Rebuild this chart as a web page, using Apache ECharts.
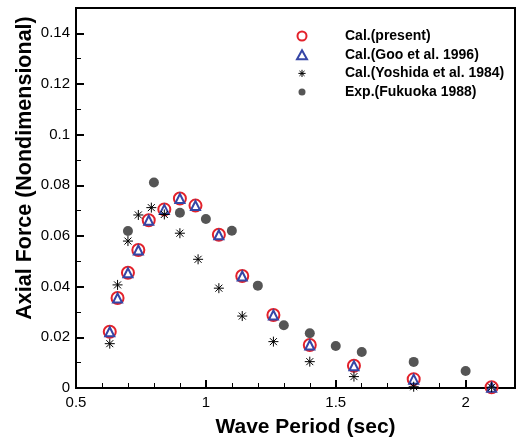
<!DOCTYPE html>
<html><head><meta charset="utf-8">
<script src="https://cdn.jsdelivr.net/npm/echarts@6/dist/echarts.min.js"></script>
<style>html,body{margin:0;padding:0;background:#fff}#c{width:517px;height:441px}</style>
</head><body><div id="c"></div>
<script>
const seriesNames = ['Cal.(present)', 'Cal.(Goo et al. 1996)', 'Cal.(Yoshida et al. 1984)', 'Exp.(Fukuoka 1988)'];
const xPresent = [0.63, 0.66, 0.70, 0.74, 0.78, 0.84, 0.90, 0.96, 1.05, 1.14, 1.26, 1.40, 1.57, 1.80, 2.10];
const yPresent = [0.0222, 0.0355, 0.0455, 0.0545, 0.0662, 0.0705, 0.0748, 0.0720, 0.0605, 0.0442, 0.0288, 0.0170, 0.0088, 0.0035, 0.0003];
const xGoo = [0.63, 0.66, 0.70, 0.74, 0.78, 0.84, 0.90, 0.96, 1.05, 1.14, 1.26, 1.40, 1.57, 1.80, 2.10];
const yGoo = [0.0222, 0.0355, 0.0455, 0.0545, 0.0662, 0.0705, 0.0748, 0.0720, 0.0605, 0.0442, 0.0288, 0.0170, 0.0088, 0.0035, 0.0003];
const xYoshida = [0.63, 0.66, 0.70, 0.74, 0.79, 0.84, 0.90, 0.97, 1.05, 1.14, 1.26, 1.40, 1.57, 1.80, 2.10];
const yYoshida = [0.0175, 0.0407, 0.0580, 0.0683, 0.0712, 0.0685, 0.0611, 0.0508, 0.0394, 0.0284, 0.0183, 0.0104, 0.0045, 0.0005, 0.0003];
const xFukuoka = [0.70, 0.80, 0.90, 1.00, 1.10, 1.20, 1.30, 1.40, 1.50, 1.60, 1.80, 2.00];
const yFukuoka = [0.0620, 0.0811, 0.0692, 0.0667, 0.0621, 0.0404, 0.0248, 0.0216, 0.0166, 0.0142, 0.0103, 0.0067];
const xTitle = 'Wave Period (sec)';
const yTitle = 'Axial Force (Nondimensional)';

const pairs = (xs, ys) => xs.map((x, i) => [x, ys[i]]);
const FONT = '"Liberation Sans", Arial, sans-serif';
const starPath = 'path://M0 5L10 5M5 0L5 10M1.5 1.5L8.5 8.5M8.5 1.5L1.5 8.5';
const triPath = 'path://M5 0L10 9L0 9Z';
const smallDotPath = 'path://M0 0M9 9M1 4.5A3.5 3.5 0 1 1 8 4.5A3.5 3.5 0 1 1 1 4.5Z';
const smallStarPath = 'path://M0 0M10 10M1 5L9 5M5 1L5 9M2.2 2.2L7.8 7.8M7.8 2.2L2.2 7.8';

const chart = echarts.init(document.getElementById('c'), null, {renderer: 'canvas'});
chart.setOption({
  animation: false,
  backgroundColor: '#fff',
  textStyle: {fontFamily: FONT},
  grid: {left: 76, top: 8, width: 439, height: 380, show: true, borderColor: '#000', borderWidth: 2,
         containLabel: false, outerBoundsMode: 'none'},
  legend: {
    data: [
      {name: seriesNames[0]},
      {name: seriesNames[1], icon: triPath},
      {name: seriesNames[2], icon: smallStarPath,
       itemStyle: {color: 'rgba(0,0,0,0)', borderColor: '#000', borderWidth: 1}},
      {name: seriesNames[3], icon: smallDotPath}
    ],
    orient: 'vertical',
    left: 291, top: 24,
    itemWidth: 76, itemHeight: 9, itemGap: 4.7,
    symbolKeepAspect: true,
    selectedMode: false,
    textStyle: {fontFamily: FONT, fontSize: 14, fontWeight: 'bold', color: '#000'}
  },
  xAxis: {
    type: 'value', min: 0.5, max: 2.19, interval: 0.5,
    name: xTitle, nameLocation: 'middle', nameGap: 29, nameMoveOverlap: false,
    nameTextStyle: {fontFamily: FONT, fontSize: 21, fontWeight: 'bold', color: '#000', padding: [0, 0, 0, 20]},
    axisLine: {show: true, onZero: false, lineStyle: {color: '#000', width: 2}},
    axisTick: {show: true, inside: true, length: 8, lineStyle: {color: '#000', width: 2}},
    minorTick: {show: true, splitNumber: 5, length: 5, lineStyle: {color: '#000', width: 1}},
    splitLine: {show: false},
    axisLabel: {fontFamily: FONT, fontSize: 15, color: '#000', margin: 7, showMaxLabel: false}
  },
  yAxis: {
    type: 'value', min: 0, max: 0.15, interval: 0.02,
    name: yTitle, nameLocation: 'middle', nameGap: 40, nameRotate: 90, nameMoveOverlap: false,
    nameTextStyle: {fontFamily: FONT, fontSize: 21.5, fontWeight: 'bold', color: '#000', padding: [0, 0, 0, 60]},
    axisLine: {show: true, onZero: false, lineStyle: {color: '#000', width: 2}},
    axisTick: {show: true, inside: true, length: 8, lineStyle: {color: '#000', width: 2}},
    minorTick: {show: true, splitNumber: 2, length: 5, lineStyle: {color: '#000', width: 1}},
    splitLine: {show: false},
    axisLabel: {fontFamily: FONT, fontSize: 15, color: '#000', margin: 6, showMaxLabel: false}
  },
  series: [
    {
      name: seriesNames[3], type: 'scatter', z: 2,
      data: pairs(xFukuoka, yFukuoka),
      symbol: 'circle', symbolSize: 10,
      itemStyle: {color: '#555555', opacity: 1},
      emphasis: {disabled: true}
    },
    {
      name: seriesNames[0], type: 'scatter', z: 3,
      data: pairs(xPresent, yPresent),
      symbol: 'circle', symbolSize: 12,
      itemStyle: {color: 'rgba(255,255,255,0)', borderColor: '#e3222b', borderWidth: 2, opacity: 1},
      emphasis: {disabled: true}
    },
    {
      name: seriesNames[1], type: 'scatter', z: 4,
      data: pairs(xGoo, yGoo),
      symbol: 'triangle', symbolSize: 9,
      itemStyle: {color: '#ffffff', borderColor: '#3546a6', borderWidth: 2, opacity: 1},
      emphasis: {disabled: true}
    },
    {
      name: seriesNames[2], type: 'scatter', z: 5,
      data: pairs(xYoshida, yYoshida),
      symbol: starPath, symbolSize: 10,
      itemStyle: {color: 'rgba(0,0,0,0)', borderColor: '#000', borderWidth: 1, opacity: 1},
      emphasis: {disabled: true}
    }
  ]
});
</script>
</body></html>
